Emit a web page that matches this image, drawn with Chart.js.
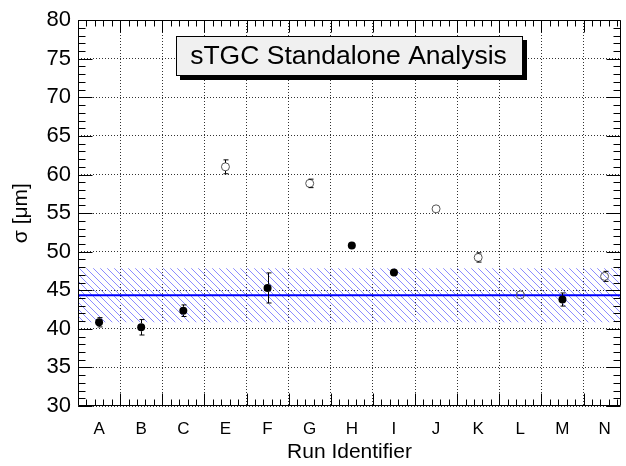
<!DOCTYPE html>
<html>
<head>
<meta charset="utf-8">
<script src="https://cdn.jsdelivr.net/npm/chart.js@4.4.0/dist/chart.umd.min.js"></script>
<style>
	html, body { margin: 0; padding: 0; background: #fff; }
	canvas { display: block; }
</style>
</head>
<body>
<canvas id="sigma-chart" width="626" height="466"></canvas>
<script>
// run labels and measured resolution (um)
const runIds = ["A", "B", "C", "E", "F", "G", "H", "I", "J", "K", "L", "M", "N"];
const sigmaFilled = [40.85, 40.2, 42.35, null, 45.3, null, 50.8, 47.3, null, null, null, 43.8, null];
const sigmaOpen = [null, null, null, 61.0, null, 58.85, null, null, 55.55, 49.25, 44.4, null, 46.8];
const sigmaErr = [0.6, 1.0, 0.75, 0.9, 1.95, 0.55, 0.35, 0.35, 0.5, 0.6, 0.3, 0.85, 0.65];

// fitted mean and its band
const fitMean = 44.35;
const fitBand = [40.85, 47.85];

const yTicks = [30, 35, 40, 45, 50, 55, 60, 65, 70, 75, 80];
const xRange = [-0.5, 12.39];

const plotTitle = "sTGC Standalone Analysis";
const FONT = "'Liberation Sans', Arial, Helvetica, sans-serif";

Chart.defaults.color = "#000";
Chart.defaults.font.family = FONT;

function toPoints(values) {
	const pts = [];
	values.forEach((v, i) => {
		if (v !== null) pts.push({ x: i, y: v });
	});
	return pts;
}

// blue hatch for the band
function makeHatch() {
	const c = document.createElement("canvas");
	const s = 7;
	c.width = s;
	c.height = s;
	const g = c.getContext("2d");
	g.strokeStyle = "#8c8cff";
	g.lineWidth = 1;
	g.beginPath();
	g.moveTo(-1, -1);
	g.lineTo(s + 1, s + 1);
	g.moveTo(-1, s - 1);
	g.lineTo(1, s + 1);
	g.moveTo(s - 1, -1);
	g.lineTo(s + 1, 1);
	g.stroke();
	return g.createPattern(c, "repeat");
}

// error bars with small caps
const errorBars = {
	id: "errorBars",
	afterDatasetsDraw(chart) {
		const ctx = chart.ctx;
		const xs = chart.scales.x;
		const ys = chart.scales.y;
		ctx.save();
		ctx.strokeStyle = "#000";
		ctx.lineWidth = 1;
		runIds.forEach((id, i) => {
			const v = sigmaFilled[i] !== null ? sigmaFilled[i] : sigmaOpen[i];
			const px = Math.round(xs.getPixelForValue(i)) + 0.5;
			const top = ys.getPixelForValue(v + sigmaErr[i]);
			const bot = ys.getPixelForValue(v - sigmaErr[i]);
			const mid = ys.getPixelForValue(v);
			const r = 4;
			ctx.beginPath();
			if (mid - top > r) {
				ctx.moveTo(px, mid - r);
				ctx.lineTo(px, top);
				ctx.moveTo(px - 2, top);
				ctx.lineTo(px + 3, top);
			}
			if (bot - mid > r) {
				ctx.moveTo(px, mid + r);
				ctx.lineTo(px, bot);
				ctx.moveTo(px - 2, bot);
				ctx.lineTo(px + 3, bot);
			}
			ctx.stroke();
		});
		ctx.restore();
	},
};

// ROOT style frame with inward ticks
const rootFrame = {
	id: "rootFrame",
	afterDraw(chart) {
		const ctx = chart.ctx;
		const a = chart.chartArea;
		const xs = chart.scales.x;
		const ys = chart.scales.y;
		const L = Math.round(a.left) + 0.5;
		const R = Math.round(a.right) - 0.5;
		const T = Math.round(a.top) + 0.5;
		const B = Math.round(a.bottom) - 0.5;
		ctx.save();
		ctx.strokeStyle = "#000";
		ctx.lineWidth = 1;
		ctx.beginPath();
		ctx.rect(L, T, R - L, B - T);
		for (let v = yTicks[0]; v <= yTicks[yTicks.length - 1]; v++) {
			const py = Math.round(ys.getPixelForValue(v)) + 0.5;
			const len = v % 5 === 0 ? 14 : 7;
			ctx.moveTo(L, py);
			ctx.lineTo(L + len, py);
			ctx.moveTo(R, py);
			ctx.lineTo(R - len, py);
		}
		for (let k = 0; ; k++) {
			const v = xRange[0] + k * 0.2;
			if (v > xRange[1]) break;
			const px = Math.round(xs.getPixelForValue(v)) + 0.5;
			const len = k % 5 === 0 ? 12 : 6;
			ctx.moveTo(px, B);
			ctx.lineTo(px, B - len);
			ctx.moveTo(px, T);
			ctx.lineTo(px, T + len);
		}
		ctx.stroke();
		ctx.restore();
	},
};

// title pave with shadow
const titleBox = {
	id: "titleBox",
	afterDraw(chart) {
		const ctx = chart.ctx;
		const bx = 176, by = 36, bw = 347, bh = 40;
		ctx.save();
		ctx.fillStyle = "#000";
		ctx.fillRect(bx + 4, by + 4, bw, bh);
		ctx.fillStyle = "#f0f0f0";
		ctx.fillRect(bx, by, bw, bh);
		ctx.strokeStyle = "#000";
		ctx.lineWidth = 1;
		ctx.strokeRect(bx + 0.5, by + 0.5, bw - 1, bh - 1);
		ctx.fillStyle = "#000";
		ctx.font = "26.5px " + FONT;
		ctx.textAlign = "center";
		ctx.textBaseline = "middle";
		ctx.fillText(plotTitle, bx + bw / 2 - 1, by + bh / 2 + 1);
		ctx.restore();
	},
};

const sigmaCanvas = document.getElementById("sigma-chart");

const sigmaChart = new Chart(sigmaCanvas, {
	type: "line",
	data: {
		datasets: [
			{
				label: "filled",
				data: toPoints(sigmaFilled),
				showLine: false,
				pointRadius: 4,
				pointBackgroundColor: "#000",
				pointBorderColor: "#000",
				pointBorderWidth: 0,
			},
			{
				label: "open",
				data: toPoints(sigmaOpen),
				showLine: false,
				pointRadius: 4,
				pointBackgroundColor: "rgba(255,255,255,0)",
				pointBorderColor: "#555",
				pointBorderWidth: 1,
			},
			{
				label: "mean",
				data: [
					{ x: xRange[0], y: fitMean },
					{ x: xRange[1], y: fitMean },
				],
				borderColor: "#0000ff",
				borderWidth: 2,
				pointRadius: 0,
				fill: false,
			},
			{
				label: "band high",
				data: [
					{ x: xRange[0], y: fitBand[1] },
					{ x: xRange[1], y: fitBand[1] },
				],
				borderWidth: 0,
				borderColor: "rgba(0,0,0,0)",
				pointRadius: 0,
				fill: false,
			},
			{
				label: "band low",
				data: [
					{ x: xRange[0], y: fitBand[0] },
					{ x: xRange[1], y: fitBand[0] },
				],
				borderWidth: 0,
				borderColor: "rgba(0,0,0,0)",
				backgroundColor: makeHatch(),
				pointRadius: 0,
				fill: "-1",
			},
		],
	},
	options: {
		responsive: false,
		animation: false,
		events: [],
		layout: { padding: { top: 12, right: 4, left: 0, bottom: 0 } },
		plugins: {
			legend: { display: false },
			tooltip: { enabled: false },
		},
		scales: {
			x: {
				type: "linear",
				position: "bottom",
				min: xRange[0],
				max: xRange[1],
				afterBuildTicks: (scale) => {
					scale.ticks = runIds.map((id, i) => ({ value: i }));
				},
				afterFit: (scale) => {
					scale.height = 60;
				},
				ticks: {
					autoSkip: false,
					maxRotation: 0,
					padding: 5,
					font: { size: 17 },
					callback: (value) => runIds[value],
				},
				grid: { display: false },
				border: { display: false },
				title: {
					display: true,
					text: "Run Identifier",
					font: { size: 21 },
					padding: { top: 0, bottom: 1 },
				},
			},
			xGrid: {
				type: "linear",
				position: "top",
				min: xRange[0],
				max: xRange[1],
				afterBuildTicks: (scale) => {
					scale.ticks = runIds.slice(1).map((id, i) => ({ value: i + 0.5 }));
				},
				afterFit: (scale) => {
					scale.height = 0;
				},
				ticks: { display: false },
				grid: {
					color: "#333",
					lineWidth: 1,
					drawTicks: false,
					borderDash: [1, 2],
				},
				border: { display: false, dash: [1, 2] },
			},
			y: {
				min: yTicks[0],
				max: yTicks[yTicks.length - 1],
				afterBuildTicks: (scale) => {
					scale.ticks = yTicks.map((v) => ({ value: v }));
				},
				afterFit: (scale) => {
					scale.width = 78;
				},
				ticks: {
					padding: 7,
					font: { size: 22 },
				},
				grid: {
					color: "#333",
					lineWidth: 1,
					drawTicks: false,
					borderDash: [1, 2],
				},
				border: { display: false, dash: [1, 2] },
				title: {
					display: true,
					text: "σ [μm]",
					font: { size: 21 },
					padding: { top: 9, bottom: 0 },
				},
			},
		},
	},
	plugins: [errorBars, rootFrame, titleBox],
});
</script>
</body>
</html>
